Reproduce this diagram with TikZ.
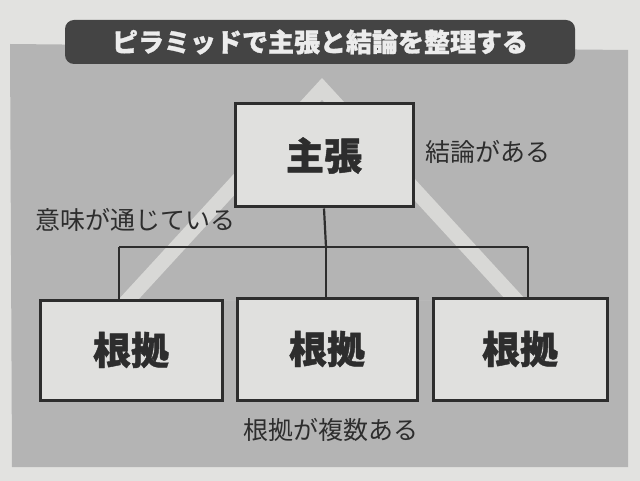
\documentclass[tikz,border=0pt]{standalone}
\usepackage{fontspec}
\newfontfamily\jp[BoldFeatures={FakeBold=1.2}]{Noto Sans CJK JP}
\definecolor{pagebg}{RGB}{226,226,224}
\definecolor{panel}{RGB}{180,180,180}
\definecolor{stripe}{RGB}{216,216,214}
\definecolor{boxfill}{RGB}{224,224,222}
\definecolor{ink}{RGB}{45,45,45}
\definecolor{barfill}{RGB}{68,68,68}
\definecolor{bartext}{RGB}{236,236,236}
\tikzset{
  box/.style={draw=ink, line width=3pt, fill=boxfill, inner sep=0pt, text=ink, font=\jp\bfseries\fontsize{38}{40}\selectfont},
  label/.style={text=ink, inner sep=0pt, font=\jp\fontsize{25}{27}\selectfont},
  tree/.style={draw=ink, line width=2.2pt},
  titlebar/.style={fill=barfill, rounded corners=9pt, minimum width=510pt, minimum height=44pt, inner sep=0pt, text=bartext, font=\jp\bfseries\fontsize{26}{28}\selectfont}
}
\begin{document}
\begin{tikzpicture}[x=1pt,y=-1pt]
\useasboundingbox (0,0) rectangle (640,481);
\fill[pagebg] (0,0) rectangle (640,481);
\fill[panel] (10,44) -- (628,50) -- (628,467) -- (12,467) -- cycle;
\begin{scope}
  \clip (0,0) rectangle (640,300);
  \fill[stripe, even odd rule] (322,78) -- (118,300) -- (526,300) -- cycle
    (322,99.7) -- (138,300) -- (506,300) -- cycle;
\end{scope}
\node[titlebar] (title) at (320,42) {ピラミッドで主張と結論を整理する};
\node[box, minimum width=178pt, minimum height=103pt] (main) at (324,155.5) {主張};
\node[box, minimum width=182pt, minimum height=100pt] (left) at (131,350) {根拠};
\node[box, minimum width=180pt, minimum height=102pt] (mid) at (327,349) {根拠};
\node[box, minimum width=174pt, minimum height=102pt] (right) at (520,349) {根拠};
\coordinate (j) at (326,247);
\coordinate (bl) at (119,247);
\coordinate (br) at (528,247);
\draw[tree] (main.south) -- (j);
\draw[tree] (bl) -- (br);
\draw[tree] (bl) -- (bl |- left.north);
\draw[tree] (j) -- (j |- mid.north);
\draw[tree] (br) -- (br |- right.north);
\node[label] (l1) at (488,152) {結論がある};
\node[label] (l2) at (135,220) {意味が通じている};
\node[label] (l3) at (331,430) {根拠が複数ある};
\end{tikzpicture}
\end{document}
